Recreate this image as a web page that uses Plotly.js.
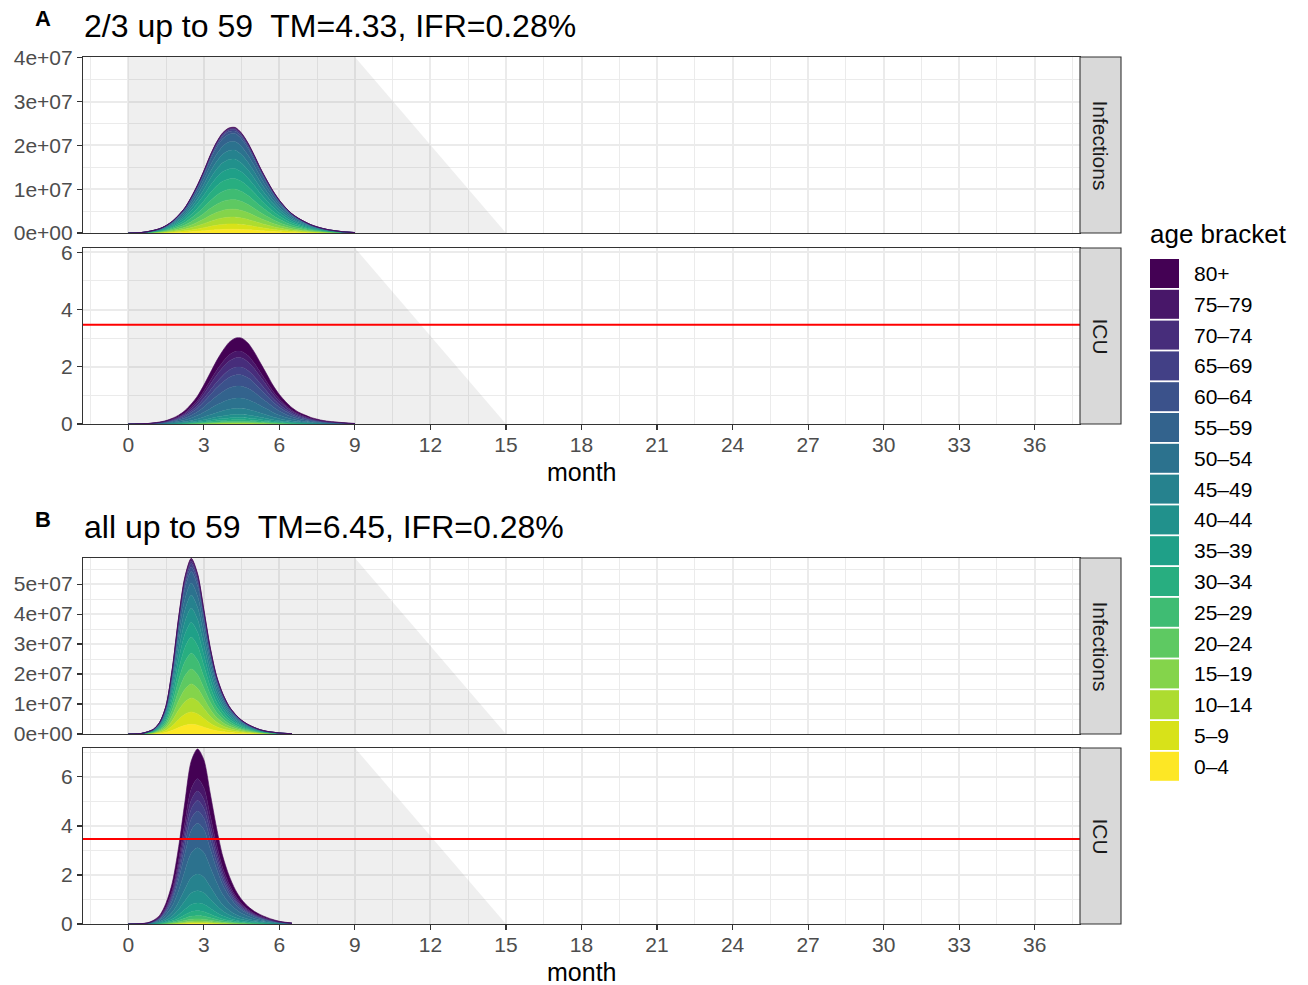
<!DOCTYPE html>
<html><head><meta charset="utf-8">
<script src="https://cdn.plot.ly/plotly-3.0.1.min.js"></script>
<style>html,body{margin:0;padding:0;background:#fff}</style>
</head><body><div id="chart" style="width:1308px;height:985px"></div>
<script>
// ---------------- data ----------------
const months = [0,0.25,0.5,0.75,1,1.25,1.5,1.75,2,2.25,2.5,2.75,3,3.25,3.5,3.75,4,4.25,4.5,4.75,5,5.25,5.5,5.75,6,6.25,6.5,6.75,7,7.25,7.5,7.75,8,8.25,8.5,8.75,9,9.25,9.5];

const ageBrackets = ['0–4','5–9','10–14','15–19','20–24','25–29','30–34','35–39','40–44','45–49','50–54','55–59','60–64','65–69','70–74','75–79','80+'];
const ageColors = ['#FDE725','#D8E219','#ADDC30','#84D44B','#5EC962','#3FBC73','#28AE80','#1FA088','#21918C','#26828E','#2C728E','#33638D','#3B528B','#424086','#472D7B','#481769','#440154'];

// Panel A: 2/3 up to 59 — totals (infections in units of 1e7, ICU as plotted)
const infTotalA = [0,0.003,0.01,0.03,0.06,0.10,0.17,0.27,0.41,0.58,0.82,1.10,1.42,1.77,2.07,2.29,2.40,2.41,2.28,2.06,1.78,1.48,1.21,0.96,0.75,0.58,0.44,0.34,0.26,0.19,0.14,0.10,0.07,0.05,0.03,0.02,0.01];
const icuTotalA = [0,0.002,0.005,0.015,0.04,0.07,0.12,0.20,0.31,0.47,0.70,0.98,1.36,1.78,2.20,2.56,2.85,3.00,3.00,2.83,2.52,2.13,1.74,1.35,1.03,0.78,0.57,0.42,0.32,0.23,0.17,0.12,0.09,0.07,0.05,0.03,0.02];
// Panel B: all up to 59
const infTotalB = [0,0.003,0.015,0.07,0.16,0.40,0.95,2.20,3.90,5.25,5.86,5.35,4.15,2.90,1.95,1.35,0.93,0.66,0.46,0.32,0.22,0.14,0.09,0.06,0.035,0.02,0.01];
const icuTotalB = [0,0.003,0.015,0.045,0.15,0.36,0.86,1.70,3.15,5.00,6.65,7.14,6.70,5.35,3.95,2.77,1.98,1.40,1.00,0.72,0.52,0.38,0.27,0.18,0.11,0.07,0.04];

// age composition of each stack (0–4 ... 80+), read at the peaks
const infShareA = [0.035,0.05,0.065,0.075,0.09,0.10,0.10,0.095,0.09,0.085,0.08,0.075,0.025,0.015,0.01,0.005,0.005];
const icuShareA = [0.002,0.002,0.003,0.005,0.008,0.012,0.018,0.025,0.035,0.07,0.12,0.14,0.13,0.09,0.11,0.075,0.155];
const infShareB = [0.055,0.07,0.08,0.08,0.085,0.09,0.09,0.085,0.08,0.075,0.07,0.065,0.025,0.02,0.015,0.01,0.005];
const icuShareB = [0.003,0.003,0.004,0.007,0.012,0.018,0.028,0.045,0.07,0.095,0.15,0.14,0.07,0.06,0.055,0.07,0.17];

const infScale = 1e7;
const icuCapacity = 3.47;
const shadeX = [0,0,9,15];      // grey period polygon (months)
const monthTickStep = 3;
const infTickValsA = [0,1e7,2e7,3e7,4e7];
const infTickTextA = ['0e+00','1e+07','2e+07','3e+07','4e+07'];
const infTickValsB = [0,1e7,2e7,3e7,4e7,5e7];
const infTickTextB = ['0e+00','1e+07','2e+07','3e+07','4e+07','5e+07'];
const icuTickVals = [0,2,4,6];
const titleA = '2/3 up to 59\u00A0 TM=4.33, IFR=0.28%';
const titleB = 'all up to 59\u00A0 TM=6.45, IFR=0.28%';
const facetLabels = ['Infections','ICU'];

// ---------------- layout geometry (pixels) ----------------
const W = 1308, H = 985;
const FONT = 'Liberation Sans, Arial, Helvetica, sans-serif';
const plotL = 83, plotR = 1080, stripR = 1121;
const px = v => v / W;
const py = v => 1 - v / H;
const GRID = '#EBEBEB';

const panels = [
  {xa:'x',  ya:'y',  top:57,  bot:233, totals:infTotalA, shares:infShareA, scale:infScale, range:[0,4.02e7], tv:infTickValsA, tt:infTickTextA, minor:[0.5e7,1.5e7,2.5e7,3.5e7], bottom:false, strip:facetLabels[0], cap:false},
  {xa:'x2', ya:'y2', top:248, bot:424, totals:icuTotalA, shares:icuShareA, scale:1, range:[0,6.15], tv:icuTickVals, tt:icuTickVals.map(String), minor:[1,3,5], bottom:true, strip:facetLabels[1], cap:true},
  {xa:'x3', ya:'y3', top:558, bot:734, totals:infTotalB, shares:infShareB, scale:infScale, range:[0,5.87e7], tv:infTickValsB, tt:infTickTextB, minor:[0.5e7,1.5e7,2.5e7,3.5e7,4.5e7,5.5e7], bottom:false, strip:facetLabels[0], cap:false},
  {xa:'x4', ya:'y4', top:748, bot:924, totals:icuTotalB, shares:icuShareB, scale:1, range:[0,7.18], tv:icuTickVals, tt:icuTickVals.map(String), minor:[1,3,5,7], bottom:true, strip:facetLabels[1], cap:true}
];

const traces = [];
const layout = {
  width: W, height: H,
  margin: {l:0, r:0, t:0, b:0},
  paper_bgcolor: '#fff', plot_bgcolor: '#fff',
  showlegend: false,
  font: {family: FONT, color: '#000'},
  shapes: [], annotations: []
};

panels.forEach((p, i) => {
  const sg = 'stack' + i;
  const xs = months.slice(0, p.totals.length);
  ageBrackets.forEach((age, k) => {
    traces.push({
      type: 'scatter', mode: 'lines',
      x: xs,
      y: p.totals.map(v => v * p.scale * p.shares[k]),
      xaxis: p.xa, yaxis: p.ya,
      stackgroup: sg,
      fillcolor: ageColors[k],
      line: {color: ageColors[k], width: 0.6, shape: 'spline', smoothing: 0.8},
      name: age, hoverinfo: 'skip'
    });
  });
  const xkey = 'xaxis' + (i === 0 ? '' : i + 1);
  const ykey = 'yaxis' + (i === 0 ? '' : i + 1);
  layout[xkey] = {
    domain: [px(plotL), px(plotR)],
    anchor: p.ya,
    range: [-1.8, 37.8],
    tickmode: 'linear', tick0: 0, dtick: monthTickStep,
    showgrid: true, gridcolor: GRID, gridwidth: 2,
    minor: {tickmode: 'linear', tick0: monthTickStep / 2, dtick: monthTickStep, showgrid: true, gridcolor: GRID, gridwidth: 1, ticks: ''},
    zeroline: false,
    showline: true, mirror: true, linecolor: '#333333', linewidth: 1.1,
    showticklabels: p.bottom,
    ticks: p.bottom ? 'outside' : '', ticklen: 5, tickwidth: 1.1, tickcolor: '#333333',
    ticklabelstandoff: -3,
    tickfont: {family: FONT, size: 21, color: '#4D4D4D'},
    fixedrange: true
  };
  layout[ykey] = {
    domain: [py(p.bot), py(p.top)],
    anchor: p.xa,
    range: p.range,
    tickmode: 'array', tickvals: p.tv, ticktext: p.tt,
    showgrid: true, gridcolor: GRID, gridwidth: 2,
    minor: {tickmode: 'array', tickvals: p.minor, showgrid: true, gridcolor: GRID, gridwidth: 1, ticks: ''},
    zeroline: false,
    showline: true, mirror: true, linecolor: '#333333', linewidth: 1.1,
    ticks: 'outside', ticklen: 5, tickwidth: 1.1, tickcolor: '#333333',
    tickfont: {family: FONT, size: 21, color: '#4D4D4D'},
    fixedrange: true
  };
  // grey shaded period
  const topY = p.range[1];
  layout.shapes.push({
    type: 'path', xref: p.xa, yref: p.ya, layer: 'between',
    path: `M${shadeX[0]},0 L${shadeX[1]},${topY} L${shadeX[2]},${topY} L${shadeX[3]},0 Z`,
    fillcolor: 'rgba(128,128,128,0.13)', line: {width: 0}
  });
  if (p.cap) {
    layout.shapes.push({
      type: 'line', xref: p.xa + ' domain', yref: p.ya, x0: 0, x1: 1, y0: icuCapacity, y1: icuCapacity,
      line: {color: '#FF0000', width: 2}, layer: 'above'
    });
  }
  // facet strip
  layout.shapes.push({
    type: 'rect', xref: 'paper', yref: 'paper',
    x0: px(plotR), x1: px(stripR), y0: py(p.bot), y1: py(p.top),
    fillcolor: '#D9D9D9', line: {color: '#333333', width: 1.1}
  });
  layout.annotations.push({
    xref: 'paper', yref: 'paper', x: px((plotR + stripR) / 2), y: py((p.top + p.bot) / 2),
    text: p.strip, showarrow: false, textangle: 90,
    font: {family: FONT, size: 21, color: '#1A1A1A'}, xanchor: 'center', yanchor: 'middle'
  });
  if (p.bottom) {
    layout.annotations.push({
      xref: 'paper', yref: 'paper', x: px((plotL + plotR) / 2), y: py(p.bot + 48),
      text: 'month', showarrow: false,
      font: {family: FONT, size: 25, color: '#000'}, xanchor: 'center', yanchor: 'middle'
    });
  }
});

// titles and tags
[[titleA, 'A', 26, 18], [titleB, 'B', 527, 519]].forEach(([t, tag, ty, tagy]) => {
  layout.annotations.push({xref:'paper', yref:'paper', x: px(82), y: py(ty), text: t, showarrow:false,
    xanchor:'left', yanchor:'middle', font:{family: FONT, size: 32, color:'#000'}});
  layout.annotations.push({xref:'paper', yref:'paper', x: px(43), y: py(tagy), text: '<b>' + tag + '</b>', showarrow:false,
    xanchor:'center', yanchor:'middle', font:{family: FONT, size: 22, color:'#000'}});
});

// legend (drawn from ageBrackets / ageColors, 80+ at top)
layout.annotations.push({xref:'paper', yref:'paper', x: px(1148), y: py(234), text: 'age bracket', showarrow:false,
  xanchor:'left', yanchor:'middle', font:{family: FONT, size: 26, color:'#000'}});
const legTop = 259, legPitch = 30.8;
ageBrackets.slice().reverse().forEach((age, j) => {
  const col = ageColors[ageColors.length - 1 - j];
  const y0 = legTop + j * legPitch;
  layout.shapes.push({type:'rect', xref:'paper', yref:'paper', x0: px(1150), x1: px(1179), y0: py(y0 + legPitch - 1.8), y1: py(y0),
    fillcolor: col, line:{width:0}});
  layout.annotations.push({xref:'paper', yref:'paper', x: px(1192), y: py(y0 + (legPitch - 1.8) / 2), text: age, showarrow:false,
    xanchor:'left', yanchor:'middle', font:{family: FONT, size: 21, color:'#000'}});
});

Plotly.newPlot('chart', traces, layout, {displayModeBar: false, staticPlot: true});
</script></body></html>
